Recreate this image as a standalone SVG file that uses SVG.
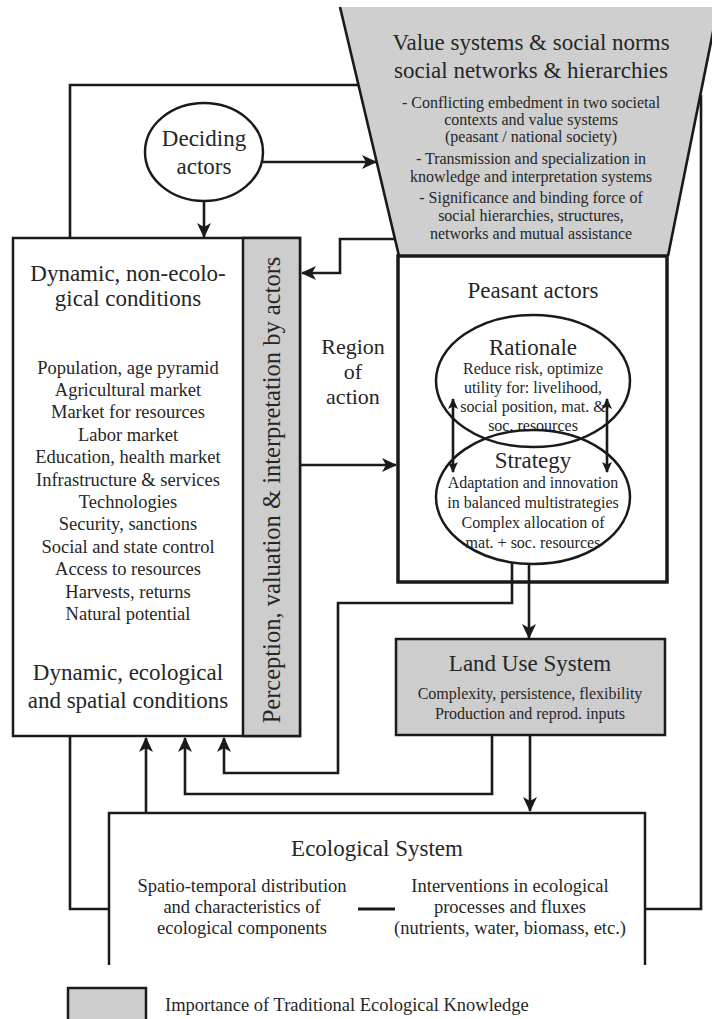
<svg xmlns="http://www.w3.org/2000/svg" width="712" height="1019" viewBox="0 0 712 1019">
<style>
text{font-family:"Liberation Serif","Times New Roman",serif;fill:#262626;text-anchor:middle}
.t{font-size:23px}
.s{font-size:16px}
.m{font-size:18.5px}
.r{font-size:22px}
.ln{fill:none;stroke:#1a1a1a;stroke-width:2.6}
.box{fill:#fff;stroke:#1a1a1a;stroke-width:2.5}
.gray{fill:#cdcdcd;stroke:#1a1a1a;stroke-width:2.5}
.ell{fill:none;stroke:#1a1a1a;stroke-width:2.5}
</style>
<defs>
<marker id="ah" markerUnits="userSpaceOnUse" markerWidth="16" markerHeight="14" refX="14" refY="7" orient="auto"><path d="M0,0 L15,7 L0,14 L4,7 z" fill="#1a1a1a"/></marker>
<marker id="sa" markerUnits="userSpaceOnUse" markerWidth="12" markerHeight="10" refX="10" refY="5" orient="auto-start-reverse"><path d="M0,0 L11,5 L0,10 L2.5,5 z" fill="#1a1a1a"/></marker>
</defs>
<rect width="712" height="1019" fill="#fff"/>

<g id="value-systems">
<polygon points="340,7 718,7 668,256 399,256" fill="#cfcfcf"/>
<path d="M340,7 L399,256 M718,7 L668,256" class="ln"/>
<text x="531" y="50" class="t">Value systems &amp; social norms</text>
<text x="531" y="78" class="t">social networks &amp; hierarchies</text>
<text x="531" y="107.5" class="s">- Conflicting embedment in two societal</text>
<text x="531" y="124.5" class="s">contexts and value systems</text>
<text x="531" y="141.5" class="s">(peasant / national society)</text>
<text x="531" y="163.5" class="s">- Transmission and specialization in</text>
<text x="531" y="181.5" class="s">knowledge and interpretation systems</text>
<text x="531" y="202.5" class="s">- Significance and binding force of</text>
<text x="531" y="220.5" class="s">social hierarchies, structures,</text>
<text x="531" y="238.5" class="s">networks and mutual assistance</text>
</g>

<g id="deciding-actors">
<ellipse cx="204" cy="152" rx="59" ry="49" class="ell" fill="#fff"/>
<text x="204" y="146" class="t">Deciding</text>
<text x="204" y="174" class="t">actors</text>
</g>

<g id="conditions">
<rect x="13" y="238" width="287" height="498" class="box"/>
<rect x="243" y="238" width="57" height="498" class="gray"/>
<text x="128" y="281" class="t">Dynamic, non-ecolo-</text>
<text x="128" y="306" class="t">gical conditions</text>
<text x="128" y="373.5" class="m">Population, age pyramid</text>
<text x="128" y="396" class="m">Agricultural market</text>
<text x="128" y="418.3" class="m">Market for resources</text>
<text x="128" y="440.7" class="m">Labor market</text>
<text x="128" y="463.1" class="m">Education, health market</text>
<text x="128" y="485.5" class="m">Infrastructure &amp; services</text>
<text x="128" y="507.9" class="m">Technologies</text>
<text x="128" y="530.3" class="m">Security, sanctions</text>
<text x="128" y="552.7" class="m">Social and state control</text>
<text x="128" y="575.1" class="m">Access to resources</text>
<text x="128" y="597.5" class="m">Harvests, returns</text>
<text x="128" y="619.9" class="m">Natural potential</text>
<text x="128" y="680" class="t">Dynamic, ecological</text>
<text x="128" y="708" class="t">and spatial conditions</text>
<text transform="translate(279.5,490) rotate(-90)" x="0" y="0" style="font-size:24.5px">Perception, valuation &amp; interpretation by actors</text>
</g>

<g id="region-of-action">
<text x="353" y="354" class="r">Region</text>
<text x="353" y="379" class="r">of</text>
<text x="353" y="404" class="r">action</text>
</g>

<g id="peasant-actors">
<rect x="398" y="256" width="269" height="326" fill="#fff" stroke="#1a1a1a" stroke-width="3.5"/>
<text x="533" y="298" class="t">Peasant actors</text>
</g>

<g id="rationale">
<ellipse cx="533" cy="381" rx="97" ry="66" class="ell"/>
<text x="533" y="355" class="t">Rationale</text>
<text x="533" y="373.5" class="s">Reduce risk, optimize</text>
<text x="533" y="392.5" class="s">utility for: livelihood,</text>
<text x="533" y="412" class="s">social position, mat. &amp;</text>
<text x="533" y="430.5" class="s">soc. resources</text>
</g>

<g id="strategy">
<ellipse cx="533" cy="497" rx="97" ry="67" class="ell"/>
<text x="533" y="468" class="t">Strategy</text>
<text x="533" y="487.5" class="s">Adaptation and innovation</text>
<text x="533" y="507.5" class="s">in balanced multistrategies</text>
<text x="533" y="527.5" class="s">Complex allocation of</text>
<text x="533" y="547.5" class="s">mat. + soc. resources</text>
</g>

<g id="land-use-system">
<rect x="396" y="639" width="269" height="96" class="gray"/>
<text x="530" y="671" class="t">Land Use System</text>
<text x="530" y="698.5" class="s">Complexity, persistence, flexibility</text>
<text x="530" y="718.5" class="s">Production and reprod. inputs</text>
</g>

<g id="ecological-system">
<path d="M109,965 V813 H645 V965" fill="#fff" stroke="#1a1a1a" stroke-width="2.5"/>
<text x="377" y="856" class="t">Ecological System</text>
<text x="242" y="892" class="m">Spatio-temporal distribution</text>
<text x="242" y="913" class="m">and characteristics of</text>
<text x="242" y="934" class="m">ecological components</text>
<text x="510" y="892" class="m">Interventions in ecological</text>
<text x="510" y="913" class="m">processes and fluxes</text>
<text x="510" y="934" class="m">(nutrients, water, biomass, etc.)</text>
<path d="M358,909 H395" stroke="#1a1a1a" stroke-width="3"/>
</g>

<g id="legend">
<rect x="68" y="988" width="78" height="40" class="gray"/>
<text x="165" y="1011" class="m" style="text-anchor:start">Importance of Traditional Ecological Knowledge</text>
</g>

<g id="connectors">
<path d="M358.5,85 H70 V238" class="ln"/>
<path d="M263,162 H376" class="ln" marker-end="url(#ah)"/>
<path d="M204,201 V237" class="ln" marker-end="url(#ah)"/>
<path d="M395,239 H340 V273 H302" class="ln" marker-end="url(#ah)"/>
<path d="M300,465 H396" class="ln" marker-end="url(#ah)"/>
<path d="M453,399 V472" class="ln" stroke-width="2" marker-start="url(#sa)" marker-end="url(#sa)"/>
<path d="M607,399 V472" class="ln" stroke-width="2" marker-start="url(#sa)" marker-end="url(#sa)"/>
<path d="M529,564 V638" class="ln" marker-end="url(#ah)"/>
<path d="M512,562 V603 H338 V773 H224 V738" class="ln" marker-end="url(#ah)"/>
<path d="M492,735 V794 H185 V738" class="ln" marker-end="url(#ah)"/>
<path d="M146,813 V738" class="ln" marker-end="url(#ah)"/>
<path d="M530,735 V811" class="ln" marker-end="url(#ah)"/>
<path d="M70,736 V909 H109" class="ln"/>
<path d="M701,95 V909 H645" class="ln"/>
</g>
</svg>
